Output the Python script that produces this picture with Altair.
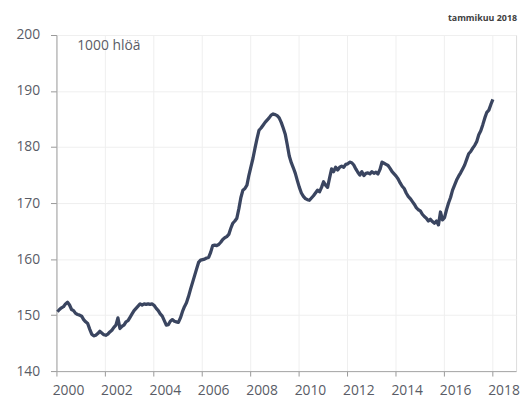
import altair as alt
import pandas as pd

years = list(range(2000, 2019))
v2000 = [150.6, 151.0, 151.3, 151.5, 152.0, 152.3, 151.8, 151.0, 150.8, 150.3, 150.1, 150.0]
v2001 = [149.8, 149.2, 148.8, 148.5, 147.5, 146.6, 146.3, 146.4, 146.7, 147.1, 146.8, 146.5]
v2002 = [146.4, 146.6, 147.0, 147.3, 147.8, 148.2, 149.5, 147.6, 148.0, 148.2, 148.8, 149.0]
v2003 = [149.6, 150.2, 150.8, 151.2, 151.6, 152.0, 151.8, 152.0, 151.9, 152.0, 151.9, 152.0]
v2004 = [151.7, 151.2, 150.8, 150.2, 149.8, 149.0, 148.2, 148.3, 148.9, 149.2, 148.9, 148.8]
v2005 = [148.7, 149.5, 150.6, 151.5, 152.2, 153.3, 154.6, 155.8, 157.0, 158.2, 159.4, 159.8]
v2006 = [159.9, 160.0, 160.2, 160.3, 161.2, 162.4, 162.5, 162.4, 162.6, 163.0, 163.5, 163.8]
v2007 = [164.0, 164.4, 165.5, 166.4, 166.8, 167.3, 169.0, 171.0, 172.3, 172.6, 173.2, 175.0]
v2008 = [176.5, 178.0, 179.8, 181.5, 183.0, 183.4, 183.9, 184.4, 184.8, 185.2, 185.7, 185.9]
v2009 = [185.8, 185.6, 185.2, 184.4, 183.4, 182.3, 180.4, 178.4, 177.2, 176.3, 175.3, 174.0]
v2010 = [172.8, 171.8, 171.2, 170.8, 170.6, 170.5, 170.9, 171.3, 171.8, 172.3, 172.0, 172.8]
v2011 = [173.8, 173.2, 172.8, 174.5, 176.1, 175.6, 176.4, 175.9, 176.4, 176.6, 176.4, 176.9]
v2012 = [177.0, 177.3, 177.2, 176.8, 176.1, 175.5, 175.0, 175.6, 174.9, 175.3, 175.4, 175.2]
v2013 = [175.6, 175.3, 175.5, 175.2, 176.0, 177.3, 177.1, 176.9, 176.7, 176.2, 175.6, 175.2]
v2014 = [174.8, 174.3, 173.6, 173.0, 172.6, 171.8, 171.2, 170.8, 170.3, 169.8, 169.2, 168.8]
v2015 = [168.6, 168.0, 167.6, 167.3, 166.8, 167.1, 166.7, 166.4, 166.8, 166.1, 168.4, 167.0]
v2016 = [167.4, 168.8, 170.0, 171.0, 172.3, 173.2, 174.1, 174.8, 175.4, 176.1, 176.8, 177.8]
v2017 = [178.8, 179.2, 179.8, 180.3, 181.0, 182.2, 182.9, 184.0, 185.2, 186.2, 186.6, 187.6]
v2018 = [188.5]

series = [v2000, v2001, v2002, v2003, v2004, v2005, v2006, v2007, v2008, v2009,
          v2010, v2011, v2012, v2013, v2014, v2015, v2016, v2017, v2018]

label_years = [2000, 2002, 2004, 2006, 2008, 2010, 2012, 2014, 2016, 2018]
tick_years = list(range(2000, 2020))
y_ticks = [140, 150, 160, 170, 180, 190, 200]

rows = []
for yr, vals in zip(years, series):
    for m, v in enumerate(vals):
        rows.append({"t": yr + (m + 0.5) / 12, "v": v})
df = pd.DataFrame(rows)

lab_df = pd.DataFrame({"pos": [y + 0.5 for y in label_years],
                       "lab": [str(y) for y in label_years]})

W, H = 465, 340
FONT = "Open Sans"
GRAY = "#595c66"

xscale = alt.Scale(domain=[2000, 2019], nice=False, zero=False)
yscale = alt.Scale(domain=[140, 200], nice=False, zero=False)

line = alt.Chart(df).mark_line(color="#3a4560", strokeWidth=3.3, strokeJoin="round").encode(
    x=alt.X("t:Q", scale=xscale,
            axis=alt.Axis(values=tick_years, labels=False, title=None, grid=True,
                          gridColor="#efefef", domainColor="#a6a6a6", tickColor="#999999",
                          tickSize=5)),
    y=alt.Y("v:Q", scale=yscale,
            axis=alt.Axis(values=y_ticks, title=None, grid=True, gridColor="#efefef",
                          domainColor="#a6a6a6", tickColor="#999999", tickSize=6,
                          labelPadding=11, labelFont=FONT, labelFontSize=14,
                          labelColor=GRAY)),
)

xlabels = alt.Chart(lab_df).mark_text(font=FONT, fontSize=14, color=GRAY,
                                      baseline="middle", align="center").encode(
    x=alt.X("pos:Q", scale=xscale),
    y=alt.value(H + 20),
    text="lab:N",
)

unit = alt.Chart(pd.DataFrame({"s": ["1000 hlöä"]})).mark_text(
    font=FONT, fontSize=14, color=GRAY, align="left", baseline="middle").encode(
    x=alt.value(21), y=alt.value(11), text="s:N")

stamp = alt.Chart(pd.DataFrame({"s": ["tammikuu 2018"]})).mark_text(
    font=FONT, fontSize=9, fontWeight="bold", color="#404040", align="right",
    baseline="middle").encode(x=alt.value(W + 1), y=alt.value(-17), text="s:N")

chart = alt.layer(line, xlabels, unit, stamp).properties(
    width=W, height=H,
    autosize=alt.AutoSizeParams(type="none"),
    padding={"left": 49, "top": 25, "right": 6, "bottom": 35},
).configure_view(strokeWidth=0).configure(background="white")

chart.save("out.html", embed_options={"renderer": "svg", "actions": False})
